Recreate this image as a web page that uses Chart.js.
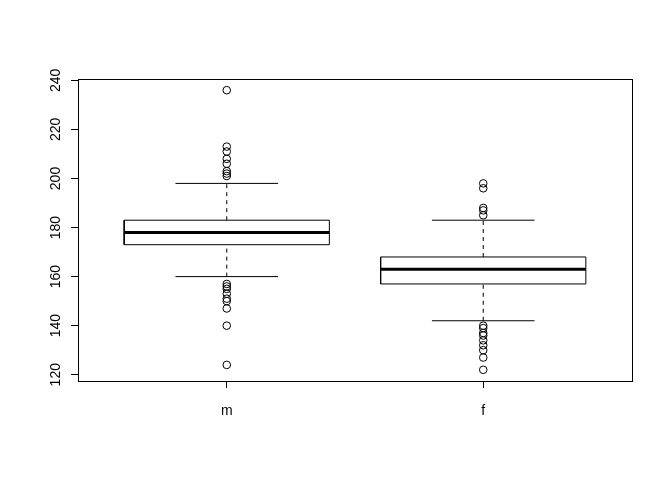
<!DOCTYPE html>
<html>
<head>
<meta charset="utf-8">
<script src="https://cdn.jsdelivr.net/npm/chart.js@4.4.1/dist/chart.umd.min.js"></script>
<style>
  html, body { margin: 0; padding: 0; background: #fff; }
  #wrap { width: 672px; height: 480px; }
</style>
</head>
<body>
<div id="wrap"><canvas id="c" width="672" height="480"></canvas></div>
<script>
// Groups and box statistics
const groups = ['m', 'f'];
const whiskerLow = [160, 142];
const quartile1 = [173, 157];
const medians = [178, 163];
const quartile3 = [183, 168];
const whiskerHigh = [198, 183];
const outliersM = [236, 213, 211, 208, 206, 203, 202, 201, 157, 156, 155, 153, 151, 150, 147, 140, 124];
const outliersF = [198, 196, 188, 187, 185, 140, 139, 137, 136, 134, 132, 130, 127, 122];
const yTicks = [120, 140, 160, 180, 200, 220, 240];

const FONT = { family: "'Liberation Sans', Arial, Helvetica, sans-serif", size: 14 };
const BOX_HALF = 0.4;
const CAP_HALF = 0.2;

function seg(points, width, dash) {
  return {
    type: 'scatter',
    data: points.map(([x, y]) => ({ x, y })),
    showLine: true,
    borderColor: '#000',
    borderWidth: width,
    borderDash: dash || [],
    pointRadius: 0,
    fill: false,
  };
}

const datasets = [];
groups.forEach((g, i) => {
  const x = i + 1;
  // whiskers
  datasets.push(seg([[x, quartile3[i]], [x, whiskerHigh[i]]], 1, [4, 4]));
  datasets.push(seg([[x, whiskerLow[i]], [x, quartile1[i]]], 1, [4, 4]));
  datasets.push(seg([[x - CAP_HALF, whiskerHigh[i]], [x + CAP_HALF, whiskerHigh[i]]], 1));
  datasets.push(seg([[x - CAP_HALF, whiskerLow[i]], [x + CAP_HALF, whiskerLow[i]]], 1));
  // box
  datasets.push(seg([
    [x - BOX_HALF, quartile1[i]], [x + BOX_HALF, quartile1[i]],
    [x + BOX_HALF, quartile3[i]], [x - BOX_HALF, quartile3[i]],
    [x - BOX_HALF, quartile1[i]],
  ], 1));
  // median
  datasets.push(seg([[x - BOX_HALF, medians[i]], [x + BOX_HALF, medians[i]]], 3));
});

[outliersM, outliersF].forEach((vals, i) => {
  datasets.push({
    type: 'scatter',
    data: vals.map(v => ({ x: i + 1, y: v })),
    pointStyle: 'circle',
    pointRadius: 3.8,
    pointBorderWidth: 1,
    pointBorderColor: '#000',
    pointBackgroundColor: 'rgba(0,0,0,0)',
    showLine: false,
  });
});

// Full frame around the plotting region
const framePlugin = {
  id: 'frame',
  afterDraw(chart) {
    const { ctx, chartArea: a } = chart;
    const l = Math.round(a.left) + 0.5, r = Math.round(a.right) + 0.5;
    const t = Math.round(a.top) + 0.5, b = Math.round(a.bottom) + 0.5;
    ctx.save();
    ctx.strokeStyle = '#000';
    ctx.lineWidth = 1;
    ctx.strokeRect(l, t, r - l, b - t);
    ctx.restore();
  },
};

new Chart(document.getElementById('c'), {
  type: 'scatter',
  data: { datasets },
  plugins: [framePlugin],
  options: {
    responsive: false,
    animation: false,
    events: [],
    layout: { padding: { left: 28, right: 40, top: 79, bottom: 59 } },
    plugins: { legend: { display: false }, tooltip: { enabled: false } },
    scales: {
      x: {
        type: 'linear',
        min: 0.42,
        max: 2.58,
        afterBuildTicks: s => { s.ticks = groups.map((g, i) => ({ value: i + 1 })); },
        afterFit: s => { s.height = 40; },
        border: { display: false },
        grid: { drawOnChartArea: false, tickLength: 7, tickColor: '#000', tickWidth: 1 },
        ticks: {
          color: '#000',
          font: FONT,
          padding: 15,
          maxRotation: 0,
          autoSkip: false,
          callback: v => groups[v - 1] || '',
        },
      },
      y: {
        type: 'linear',
        min: 117.44,
        max: 240.56,
        afterBuildTicks: s => { s.ticks = yTicks.map(v => ({ value: v })); },
        afterFit: s => { s.width = 50; },
        border: { display: false },
        grid: { drawOnChartArea: false, tickLength: 7, tickColor: '#000', tickWidth: 1 },
        ticks: {
          color: '#000',
          font: FONT,
          padding: 3,
          minRotation: 90,
          maxRotation: 90,
          crossAlign: 'center',
          autoSkip: false,
        },
      },
    },
  },
});
</script>
</body>
</html>
